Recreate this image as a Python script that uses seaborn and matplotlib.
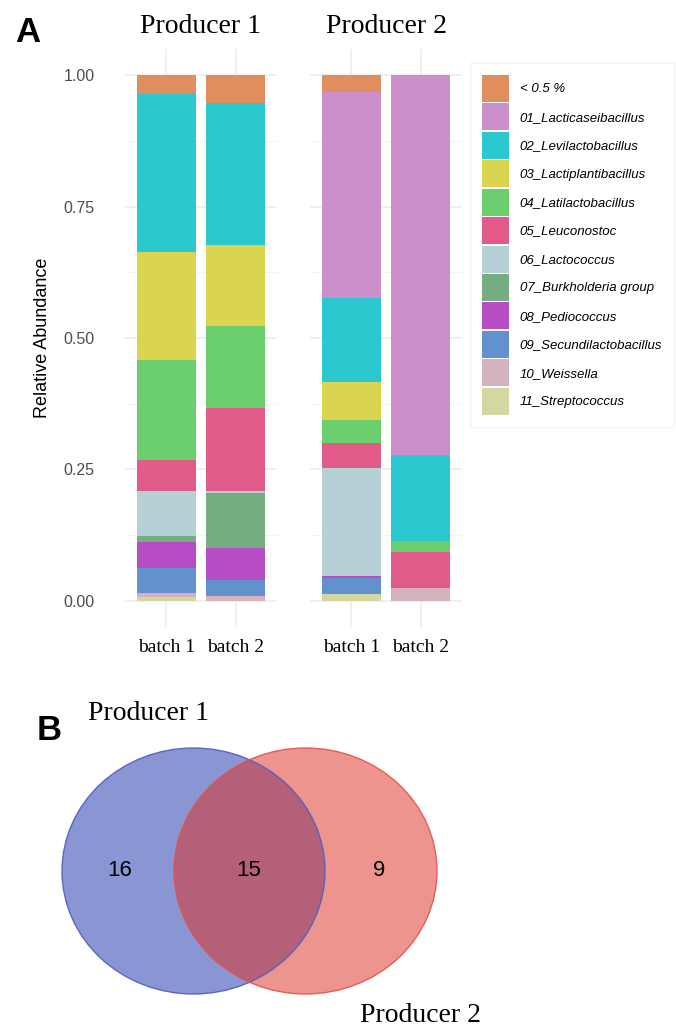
import numpy as np
import pandas as pd
import seaborn as sns
import matplotlib.pyplot as plt
from matplotlib.patches import Patch, Ellipse

# ---------------- data ----------------
genera = ["< 0.5 %", "01_Lacticaseibacillus", "02_Levilactobacillus",
          "03_Lactiplantibacillus", "04_Latilactobacillus", "05_Leuconostoc",
          "06_Lactococcus", "07_Burkholderia group", "08_Pediococcus",
          "09_Secundilactobacillus", "10_Weissella", "11_Streptococcus"]
genus_colors = ["#E08E5E", "#CB8FCC", "#2BC8D0", "#DBD44F", "#6ACF6C", "#E05A8A",
                "#B5D1D6", "#74AD80", "#B64DC4", "#6391CD", "#D4B2C0", "#D5D7A3"]

producers = ["Producer 1", "Producer 2"]
batches = ["batch 1", "batch 2"]

p1_batch1 = [0.036, 0.0, 0.301, 0.205, 0.191, 0.059, 0.085, 0.012, 0.048, 0.049, 0.006, 0.008]
p1_batch2 = [0.053, 0.0, 0.270, 0.154, 0.156, 0.159, 0.003, 0.104, 0.061, 0.031, 0.009, 0.0]
p2_batch1 = [0.031, 0.392, 0.160, 0.073, 0.043, 0.048, 0.205, 0.0, 0.004, 0.032, 0.0, 0.012]
p2_batch2 = [0.0, 0.722, 0.164, 0.0, 0.022, 0.068, 0.0, 0.0, 0.0, 0.0, 0.024, 0.0]

venn_sets = ["Producer 1", "Producer 2"]
venn_counts = [16, 15, 9]  # only P1, shared, only P2

# ---------------- long table with stacked tops ----------------
rows = []
for prod, batch, vals in [("Producer 1", "batch 1", p1_batch1), ("Producer 1", "batch 2", p1_batch2),
                          ("Producer 2", "batch 1", p2_batch1), ("Producer 2", "batch 2", p2_batch2)]:
    vals = np.array(vals)
    for i, g in enumerate(genera):
        # bar top = everything from this genus down to the bottom of the stack
        rows.append({"Producer": prod, "Batch": batch, "Genus": g,
                     "Value": vals[i], "Top": vals[i:].sum()})
df = pd.DataFrame(rows)

# ---------------- style ----------------
sns.set_style("whitegrid")
plt.rcParams["font.family"] = ["Liberation Sans", "DejaVu Sans"]
plt.rcParams["text.color"] = "black"
plt.rcParams["axes.labelcolor"] = "black"
serif = ["Liberation Serif", "DejaVu Serif"]

fig = plt.figure(figsize=(6.76, 10.27), dpi=100)
W, H = 676, 1027

def px_axes(x0, y0, x1, y1):
    return fig.add_axes([x0 / W, 1 - y1 / H, (x1 - x0) / W, (y1 - y0) / H])

axes = [px_axes(125, 49, 277, 627), px_axes(310, 49, 462, 627)]

for ax, prod in zip(axes, producers):
    sub = df[df["Producer"] == prod]
    # draw tallest cumulative first so lower genera paint over it
    for g, c in zip(genera, genus_colors):
        sns.barplot(data=sub[sub["Genus"] == g], x="Batch", y="Top", order=batches,
                    color=c, width=0.86, linewidth=0, saturation=1,
                    errorbar=None, ax=ax, zorder=3)
    ax.set_xlim(-0.6, 1.6)
    ax.set_ylim(-0.05, 1.05)
    ax.set_yticks([0, 0.25, 0.5, 0.75, 1.0])
    ax.set_yticks([0.125, 0.375, 0.625, 0.875], minor=True)
    ax.grid(True, which="major", color="#EBEBEB", linewidth=1.1, zorder=0)
    ax.grid(True, which="minor", axis="y", color="#F2F2F2", linewidth=0.6, zorder=0)
    ax.set_axisbelow(True)
    for s in ax.spines.values():
        s.set_visible(False)
    ax.set_facecolor("white")
    ax.set_xlabel("")
    ax.set_ylabel("")
    ax.set_title(prod, fontsize=20, family=serif, pad=11.5, color="black")
    ax.tick_params(axis="x", length=0, pad=8.5, labelsize=14, labelcolor="black")
    for lab in ax.get_xticklabels():
        lab.set_family(serif)
    ax.tick_params(axis="y", which="both", length=0, pad=22, labelsize=11.5, labelcolor="#4D4D4D")

axes[0].set_yticklabels(["0.00", "0.25", "0.50", "0.75", "1.00"])
axes[1].tick_params(axis="y", labelleft=False)
axes[0].set_ylabel("Relative Abundance", fontsize=13, color="black")
axes[0].yaxis.set_label_coords(-0.49, 0.5)

handles = [Patch(facecolor=c, edgecolor="none", label=g) for g, c in zip(genera, genus_colors)]
leg = fig.legend(handles=handles, loc="upper left", bbox_to_anchor=(470 / W, 1 - 63 / H),
                 fontsize=9.5, handlelength=2.05, handleheight=2.77, labelspacing=0.11,
                 handletextpad=0.83, borderpad=0.9, borderaxespad=0, frameon=True,
                 fancybox=False, edgecolor="#F0F0F0")
for t in leg.get_texts():
    t.set_style("italic")
    t.set_color("black")

fig.text(28 / W, 1 - 33 / H, "A", fontsize=25, fontweight="bold", ha="center", va="center")

# ---------------- Venn ----------------
axv = px_axes(0, 690, 676, 1027)
axv.set_xlim(0, 676)
axv.set_ylim(337, 0)
axv.axis("off")
axv.grid(False)

venn_fill = ["#152FA9", "#DF2B21"]
venn_edge = ["#4E5FC2", "#E4524A"]
centers = [(193.5, 181), (305.5, 181)]
for (cx, cy), fc in zip(centers, venn_fill):
    axv.add_patch(Ellipse((cx, cy), 263, 246, facecolor=fc, alpha=0.5, edgecolor="none"))
for (cx, cy), ec in zip(centers, venn_edge):
    axv.add_patch(Ellipse((cx, cy), 263, 246, facecolor="none", edgecolor=ec, linewidth=1.0, alpha=0.9))

for x, n in zip([120, 249, 379], venn_counts):
    axv.text(x, 180, str(n), fontsize=16, ha="center", va="center")

axv.text(149, 23, venn_sets[0], fontsize=20, family=serif, ha="center", va="center")
axv.text(421, 325, venn_sets[1], fontsize=20, family=serif, ha="center", va="center")
axv.text(49.5, 40, "B", fontsize=25, fontweight="bold", ha="center", va="center")

plt.savefig("out.png", dpi=100)
